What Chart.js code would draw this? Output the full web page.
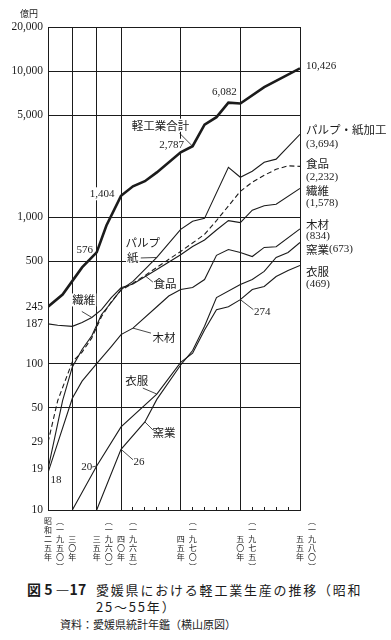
<!DOCTYPE html>
<html lang="ja">
<head>
<meta charset="utf-8">
<title>愛媛県における軽工業生産の推移</title>
<script src="https://cdn.jsdelivr.net/npm/chart.js"></script>
<style>
  html, body { margin: 0; padding: 0; background: #fff; }
  body { width: 391px; height: 640px; position: relative; overflow: hidden;
         font-family: "Noto Sans CJK JP", sans-serif; color: #1b1b1b; }
  #chart { position: absolute; left: 0; top: 0; }
  .cap { position: absolute; white-space: nowrap; }
  .fig { left: 27px; top: 581px; font-size: 14px; line-height: 17px; font-weight: 700; }
  .ttl { left: 96px; top: 581px; font-size: 13px; line-height: 17px; letter-spacing: 1.8px; }
  .src { left: 60px; top: 617px; font-size: 11px; line-height: 15px; }
</style>
</head>
<body>
<canvas id="chart" width="391" height="575"></canvas>
<div class="cap fig">図 5 —17</div>
<div class="cap ttl">愛媛県における軽工業生産の推移（昭和<br>25～55年）</div>
<div class="cap src">資料：愛媛県統計年鑑（横山原図）</div>

<script>
// years 昭和25 (1950) ... 昭和55 (1980)
const years = [1950, 1951, 1952, 1953, 1954, 1955, 1956, 1957, 1958, 1959,
               1960, 1961, 1962, 1963, 1964, 1965, 1966, 1967, 1968, 1969,
               1970, 1971, 1972, 1973, 1974, 1975, 1976, 1977, 1978, 1979,
               1980];

// 億円 (null = no corner of the line there)
const total = [245, null, null, 297, null, null, null, 455, null, null,
               576, null, 880, null, null, 1404, 1630, 1766, 2030, null,
               2787, 3062, 4300, 4840, 6082, 6000, null, 7770, null, null,
               10426];
const pulp = [19, null, null, 56, null, 95, null, 125, null, 155,
              null, 217, null, 262, null, 321, 365, null, 532, null,
              828, 940, 984, null, 2200, 1880, 2066, 2380, 2500, null,
              3694];
const food = [29, null, 56, null, null, 103, null, 120, null, 150,
              null, 210, null, 265, null, 318, 355, 400, 455, null,
              585, null, 765, 950, null, 1507, 1740, 1940, 2130, 2250,
              2232];
const textile = [187, null, 183, null, null, 180, null, 191, null, 207,
                 null, 234, null, 283, null, 330, 350, null, 440, null,
                 555, 632, 700, 820, 950, 920, 1120, 1200, 1230, null,
                 1578];
const wood = [18, null, null, null, null, 58, null, 76, null, null,
              100, null, null, 131, null, 158, 175, null, 245, 290,
              321, 332, 376, 550, 603, 576, 540, 623, 630, null,
              834];
const ceramics = [null, null, null, null, null, null, null, null, null, null,
                  10, null, null, null, null, 26, null, 40, 57, null,
                  98, 123, 180, 283, null, 348, 376, 427, 532, 576,
                  673];
const clothing = [null, null, null, null, null, 10, null, null, null, null,
                  20, null, null, null, null, 37, null, null, 62, null,
                  102, 118, 170, 234, 245, 274, 321, 337, 394, 434,
                  469];

// axis labels
const yTickValues = [10, 19, 29, 50, 100, 187, 245, 500, 1000, 5000, 10000, 20000];
const yGridValues = [10, 50, 100, 500, 1000, 5000, 10000, 20000];
const tickYears = [1950, 1955, 1960, 1965, 1970, 1975, 1980];
const eraTicks = ['昭和二五年', '三〇年', '三五年', '四〇年', '四五年', '五〇年', '五五年'];
const adTicks = ['一九五〇', '', '一九六〇', '一九六五', '一九七〇', '一九七五', '一九八〇'];

const ink = '#1b1b1b';
const clear = 'rgba(0,0,0,0)';
const jp = '"Noto Sans CJK JP", "Noto Sans CJK SC", sans-serif';
const serif = '"Liberation Serif", "DejaVu Serif", serif';

// the printed axis gives the years before 1965 much less room
const BREAK_YEAR = 1965;
const SQUEEZE = 0.408;
const warp = v => (v < BREAK_YEAR ? BREAK_YEAR + (v - BREAK_YEAR) * SQUEEZE : v);
const unwarp = u => (u < BREAK_YEAR ? BREAK_YEAR + (u - BREAK_YEAR) / SQUEEZE : u);

class BrokenYearScale extends Chart.LinearScale {
  getPixelForValue(value) {
    if (value === null || value === undefined || isNaN(value)) return NaN;
    const a = warp(this.min), b = warp(this.max);
    return this.getPixelForDecimal((warp(value) - a) / (b - a));
  }
  getValueForPixel(pixel) {
    const a = warp(this.min), b = warp(this.max);
    return unwarp(a + this.getDecimalForPixel(pixel) * (b - a));
  }
}
BrokenYearScale.id = 'brokenYear';
BrokenYearScale.defaults = {};
Chart.register(BrokenYearScale);

// vertical two-column tick label: era year, then western year in brackets
function xLabel(v) {
  const i = tickYears.indexOf(v);
  if (i < 0) return '';
  const era = Array.from(eraTicks[i]);
  const eraCol = Array(5 - era.length).fill('').concat(era, ['']);
  const adCol = adTicks[i] ? ['︵', ...Array.from(adTicks[i]), '︶'] : ['', '', '', '', '', ''];
  return eraCol.map((c, k) => (c || '　') + '\u2002' + (adCol[k] || '　'));
}

const at = (s, yr) => s[years.indexOf(yr)];

// text written on the chart; dx/dy from the anchored data point, lead = leader start
const notes = [
  { text: '10,426', s: total, yr: 1980, dx: 6, dy: -2, num: true, align: 'left' },
  { text: 'パルプ・紙加工', s: pulp, yr: 1980, dx: 6, dy: -5, align: 'left' },
  { text: '(3,694)', s: pulp, yr: 1980, dx: 6, dy: 10, num: true, align: 'left' },
  { text: '食品', s: food, yr: 1980, dx: 6, dy: -3, align: 'left' },
  { text: '(2,232)', s: food, yr: 1980, dx: 6, dy: 11, num: true, align: 'left' },
  { text: '繊維', s: textile, yr: 1980, dx: 6, dy: 2, align: 'left' },
  { text: '(1,578)', s: textile, yr: 1980, dx: 6, dy: 14.5, num: true, align: 'left' },
  { text: '木材', s: wood, yr: 1980, dx: 6, dy: -4, align: 'left' },
  { text: '(834)', s: wood, yr: 1980, dx: 6, dy: 7, num: true, align: 'left' },
  { text: '窯業', s: ceramics, yr: 1980, dx: 6, dy: 7, align: 'left' },
  { text: '(673)', s: ceramics, yr: 1980, dx: 29, dy: 7, num: true, align: 'left' },
  { text: '衣服', s: clothing, yr: 1980, dx: 6, dy: 6.5, align: 'left' },
  { text: '(469)', s: clothing, yr: 1980, dx: 6, dy: 18.5, num: true, align: 'left' },

  { text: '2,787', s: total, yr: 1970, dx: -9, dy: -7, num: true, bg: true },
  { text: '軽工業合計', s: total, yr: 1971, dx: -32, dy: -21, lead: [-13, -13], bg: true },
  { text: '6,082', s: total, yr: 1974, dx: -4, dy: -11, num: true, bg: true },
  { text: '1,404', s: total, yr: 1965, dx: -19, dy: -2, num: true, bg: true },
  { text: '576', s: total, yr: 1960, dx: -12, dy: -2, num: true, bg: true },
  { text: 'パルプ', s: pulp, yr: 1968, dx: -14, dy: -14.5, bg: true },
  { text: '紙', s: pulp, yr: 1968, dx: -24, dy: 0.5, lead: [-16, 0.5], bg: true },
  { text: '食品', s: food, yr: 1967, dx: 20, dy: 8.5, lead: [8, 6.5], bg: true },
  { text: '繊維', s: textile, yr: 1959, dx: -8, dy: -17.5, lead: [-10, -6], bg: true },
  { text: '木材', s: wood, yr: 1966, dx: 31, dy: 10, lead: [18, 5], bg: true },
  { text: '衣服', s: clothing, yr: 1968, dx: -20, dy: -13, lead: [-14, -6], bg: true },
  { text: '窯業', s: ceramics, yr: 1967, dx: 19, dy: 11, lead: [8, 8], bg: true },
  { text: '20', s: clothing, yr: 1960, dx: -10, dy: 1, lead: [-4.5, 1], num: true, bg: true },
  { text: '26', s: ceramics, yr: 1965, dx: 18, dy: 13, lead: [12, 10.5], num: true, bg: true },
  { text: '18', s: wood, yr: 1950, dx: 8, dy: 7.5, num: true, bg: true },
  { text: '274', s: clothing, yr: 1975, dx: 22, dy: 12, lead: [13, 10], num: true, bg: true }
];

function place(chart, n) {
  const x = chart.scales.x.getPixelForValue(n.yr);
  const y = chart.scales.y.getPixelForValue(at(n.s, n.yr));
  return { x, y };
}
const fontOf = n => (n.num ? '11px ' + serif : '11.5px ' + jp);

const notePlugin = {
  id: 'notes',
  beforeDatasetsDraw(chart) {
    // white patch behind inline labels, so grid lines stop at the text
    const ctx = chart.ctx;
    ctx.save();
    ctx.fillStyle = '#fff';
    notes.filter(n => n.bg).forEach(n => {
      const p = place(chart, n);
      ctx.font = fontOf(n);
      const w = ctx.measureText(n.text).width;
      ctx.fillRect(p.x + n.dx - w / 2 - 1, p.y + n.dy - 6.5, w + 2, 13);
    });
    ctx.restore();
  },
  afterDatasetsDraw(chart) {
    const ctx = chart.ctx;
    ctx.save();
    ctx.fillStyle = ink;
    ctx.strokeStyle = ink;
    ctx.lineWidth = 0.8;
    ctx.textBaseline = 'middle';
    notes.forEach(n => {
      const p = place(chart, n);
      ctx.font = fontOf(n);
      ctx.textAlign = n.align || 'center';
      ctx.fillText(n.text, p.x + n.dx, p.y + n.dy);
      if (n.lead) {
        ctx.beginPath();
        ctx.moveTo(p.x + n.lead[0], p.y + n.lead[1]);
        ctx.lineTo(p.x, p.y);
        ctx.stroke();
      }
    });
    ctx.font = '9px ' + jp;
    ctx.textAlign = 'center';
    ctx.fillText('億円', 29, 14);
    ctx.restore();
  }
};

const thin = (label, data, dash) => ({
  label, data, borderColor: ink, borderWidth: 1.1, borderDash: dash || [],
  pointRadius: 0, tension: 0, spanGaps: true, fill: false
});

new Chart(document.getElementById('chart'), {
  type: 'line',
  data: {
    labels: years,
    datasets: [
      { label: '軽工業合計', data: total, borderColor: ink, borderWidth: 2.6,
        pointRadius: 0, tension: 0, spanGaps: true, fill: false },
      thin('パルプ・紙加工', pulp),
      thin('食品', food, [5, 3]),
      thin('繊維', textile),
      thin('木材', wood),
      thin('窯業', ceramics),
      thin('衣服', clothing)
    ]
  },
  options: {
    responsive: false,
    animation: false,
    devicePixelRatio: 1,
    layout: { padding: { left: 0, right: 91, top: 27, bottom: 0 } },
    plugins: { legend: { display: false }, tooltip: { enabled: false }, title: { display: false } },
    scales: {
      x: {
        type: 'brokenYear',
        min: 1950,
        max: 1980,
        afterBuildTicks: s => { s.ticks = years.map(v => ({ value: v })); },
        afterFit: s => { s.height = 65; },
        grid: {
          color: c => (c.tick && c.tick.value % 5 === 0 ? ink : clear),
          lineWidth: 1,
          drawTicks: true,
          tickLength: -3,
          tickWidth: 1,
          tickColor: c => (c.tick && c.tick.value > 1965 && c.tick.value < 1980 && c.tick.value % 5 !== 0 ? ink : clear)
        },
        border: { display: true, color: ink, width: 1 },
        ticks: {
          autoSkip: false, maxRotation: 0, minRotation: 0,
          padding: 9, labelOffset: 6, color: ink,
          font: { family: jp, size: 8, lineHeight: 1.15 },
          callback: v => xLabel(v)
        }
      },
      y: {
        type: 'logarithmic',
        min: 10,
        max: 20000,
        afterBuildTicks: s => { s.ticks = yTickValues.map(v => ({ value: v })); },
        afterFit: s => { s.width = 48; },
        grid: {
          color: c => (c.tick && yGridValues.includes(c.tick.value) ? ink : clear),
          lineWidth: 1,
          drawTicks: false
        },
        border: { display: true, color: ink, width: 1 },
        ticks: {
          autoSkip: false, padding: 5, color: ink,
          font: { family: serif, size: 11.5 },
          callback: v => Number(v).toLocaleString('en-US')
        }
      }
    }
  },
  plugins: [notePlugin]
});
</script>
</body>
</html>
